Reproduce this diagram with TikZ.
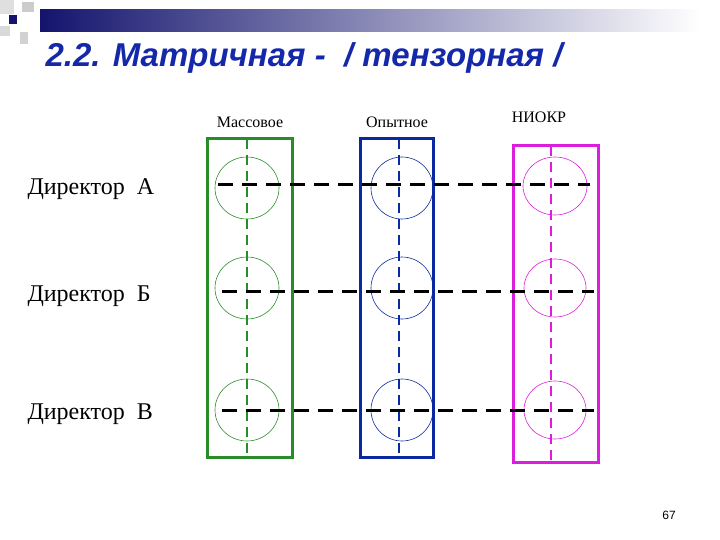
\documentclass[tikz,border=0pt]{standalone}
\usepackage{fontspec}
\setmainfont{Liberation Serif}
\newfontfamily\titlefont{Liberation Sans}
\definecolor{navy}{RGB}{20,20,110}
\definecolor{tblue}{RGB}{20,40,170}
\definecolor{cgreen}{RGB}{40,140,40}
\definecolor{cblue}{RGB}{10,40,160}
\definecolor{cmag}{RGB}{220,30,220}
\begin{document}
\begin{tikzpicture}[x=1pt,y=-1pt,
  col/.style={line width=3pt},
  vdash/.style={line width=2.6pt,dash pattern=on 10pt off 6pt},
  hdash/.style={line width=3pt,dash pattern=on 15pt off 9pt,black},
  circ/.style={line width=0.6pt},
  rowlab/.style={anchor=west,font=\fontsize{24}{26}\selectfont},
  collab/.style={font=\fontsize{16}{18}\selectfont}]
\useasboundingbox (0,0) rectangle (720,540);
% decoration
\shade[left color=navy,right color=white] (40,10) rectangle (700,32);
\fill[gray!25] (0,0) rectangle (14,14);
\fill[gray!40] (22,2) rectangle (34,12);
\fill[navy] (9,15) rectangle (17,24);
\fill[gray!30] (0,26) rectangle (10,36);
\fill[gray!35] (20,32) rectangle (28,44);
\node[anchor=west,text=tblue,font=\titlefont\bfseries\itshape\fontsize{33}{36}\selectfont] (title) at (42,58) {2.2. Матричная -~ / тензорная /};
% columns
\draw[col,cgreen] (207,139) rectangle (292,457);
\draw[col,cblue] (360,139) rectangle (433,457);
\draw[col,cmag] (513,146) rectangle (598,462);
\foreach \y in {188,288,410}{
  \draw[circ,cgreen] (247,\y) ellipse (32 and 31);
  \draw[circ,cblue] (402,\y) ellipse (31 and 31);
}
\draw[circ,cmag] (555,186) ellipse (32 and 29);
\draw[circ,cmag] (555,288) ellipse (31 and 29);
\draw[circ,cmag] (555,410) ellipse (31 and 29);
\draw[vdash,cgreen] (247,139) -- (247,457);
\draw[vdash,cblue] (399,139) -- (399,457);
\draw[vdash,cmag] (551,146) -- (551,462);
\draw[hdash] (218,185) -- (590,185);
\draw[hdash] (222,291) -- (594,291);
\draw[hdash] (222,410) -- (594,410);
% labels
\node[collab] (l1) at (250,122) {Массовое};
\node[collab] (l2) at (397,122) {Опытное};
\node[collab] (l3) at (539,117) {НИОКР};
\node[rowlab] (r1) at (24,189) {Директор~ А};
\node[rowlab] (r2) at (24,296) {Директор~ Б};
\node[rowlab] (r3) at (24,414) {Директор~ В};
\node[font=\titlefont\fontsize{12}{13}\selectfont] (pg) at (669,515) {67};
\end{tikzpicture}
\end{document}
